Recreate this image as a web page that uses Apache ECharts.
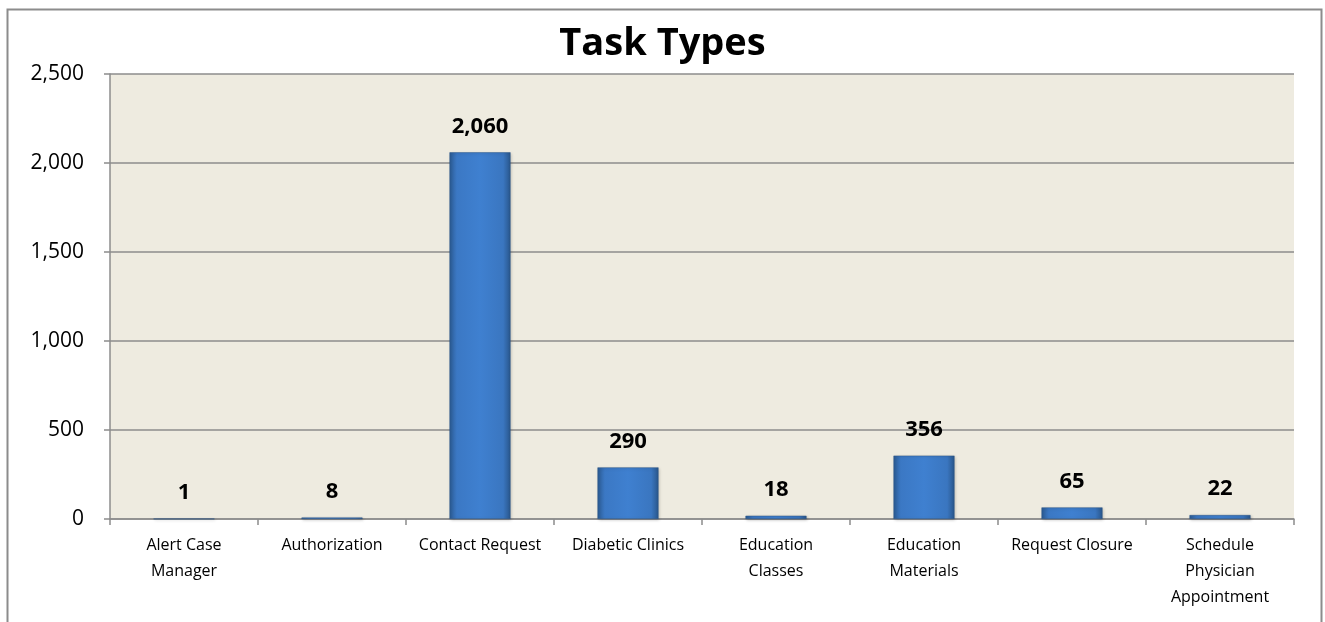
<!DOCTYPE html>
<html><head><meta charset="utf-8">
<script src="https://cdn.jsdelivr.net/npm/echarts@6/dist/echarts.min.js"></script>
<style>html,body{margin:0;padding:0;background:#fff}#c{width:1325px;height:622px}</style>
</head><body><div id="c"></div>
<script>
const categories = ["Alert Case\nManager","Authorization","Contact Request","Diabetic Clinics","Education\nClasses","Education\nMaterials","Request Closure","Schedule\nPhysician\nAppointment"];
const values = [1, 8, 2060, 290, 18, 356, 65, 22];
const yTicks = [0, 500, 1000, 1500, 2000, 2500];

const chart = echarts.init(document.getElementById('c'));
const font = '"Open Sans", "Noto Sans", sans-serif';
chart.setOption({
  animation: false,
  backgroundColor: '#fff',
  title: {text: 'Task Types', left: 'center', top: 20,
    textStyle: {fontFamily: font, fontWeight: 'bold', fontSize: 38, color: '#000'}},
  graphic: [{type: 'rect', shape: {x: 7.5, y: 9.5, width: 1314, height: 640},
    style: {fill: 'none', stroke: '#8c8c8c', lineWidth: 2}, silent: true}],
  grid: {left: 110, right: 31, top: 74, bottom: 103, backgroundColor: '#EEEBE0', show: true, borderWidth: 0},
  xAxis: {type: 'category', data: categories,
    axisLine: {lineStyle: {color: '#8c8c8c', width: 1.5}},
    axisTick: {show: true, length: 6, lineStyle: {color: '#8c8c8c', width: 1.5}},
    axisLabel: {fontFamily: font, fontSize: 16, color: '#000', interval: 0, margin: 13, lineHeight: 26}},
  yAxis: {type: 'value', min: 0, max: 2500, interval: 500,
    axisLine: {show: true, lineStyle: {color: '#8c8c8c', width: 1.5}},
    axisTick: {show: true, length: 6, lineStyle: {color: '#8c8c8c', width: 1.5}},
    splitLine: {lineStyle: {color: '#8c8c8c', width: 1.5}},
    axisLabel: {fontFamily: font, fontSize: 21, color: '#000', margin: 26,
      formatter: v => v.toLocaleString('en-US')}},
  series: [{type: 'bar', data: values, barWidth: 61,
    itemStyle: {
      color: new echarts.graphic.LinearGradient(0, 0, 1, 0, [
        {offset: 0, color: '#2b5b93'}, {offset: 0.12, color: '#3b78c4'},
        {offset: 0.5, color: '#3f80d0'}, {offset: 0.88, color: '#3a76c0'},
        {offset: 1, color: '#29568b'}]),
      borderColor: '#2a5487', borderWidth: 0.5,
      shadowColor: 'rgba(0,0,0,0.25)', shadowBlur: 3, shadowOffsetX: 1, shadowOffsetY: 1},
    label: {show: true, position: 'top', distance: 15, fontFamily: font, fontWeight: 'bold', fontSize: 22, color: '#000',
      formatter: p => p.value.toLocaleString('en-US')}
  }]
});
</script></body></html>
